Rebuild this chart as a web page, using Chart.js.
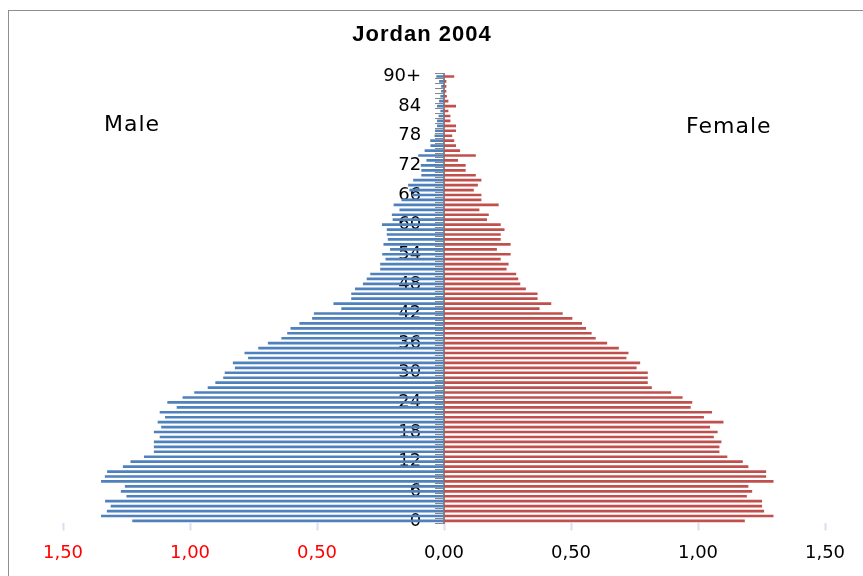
<!DOCTYPE html>
<html>
<head>
<meta charset="utf-8">
<title>Jordan 2004</title>
<script src="https://cdn.jsdelivr.net/npm/chart.js@4.4.1/dist/chart.umd.min.js"></script>
<style>
  html, body { margin: 0; padding: 0; background: #fff; overflow: hidden; }
  #wrap { position: relative; width: 863px; height: 576px; overflow: hidden; }
  #frame { position: absolute; left: 8px; top: 10px; width: 900px; height: 620px; border: 1px solid #8e8e8e; box-sizing: border-box; }
  #chart { position: absolute; left: 0; top: 0; }
</style>
</head>
<body>
<div id="wrap">
  <div id="frame"></div>
  <canvas id="chart" width="863" height="576"></canvas>
</div>
<script>
// age groups, 0 .. 90+
const ages = ['0','1','2','3','4','5','6','7','8','9',
  '10','11','12','13','14','15','16','17','18','19',
  '20','21','22','23','24','25','26','27','28','29',
  '30','31','32','33','34','35','36','37','38','39',
  '40','41','42','43','44','45','46','47','48','49',
  '50','51','52','53','54','55','56','57','58','59',
  '60','61','62','63','64','65','66','67','68','69',
  '70','71','72','73','74','75','76','77','78','79',
  '80','81','82','83','84','85','86','87','88','89',
  '90+'];

// share of population (%)
const male = [
  1.226, 1.349, 1.326, 1.311, 1.333, 1.249, 1.271, 1.255, 1.349, 1.334,
  1.325, 1.263, 1.233, 1.180, 1.141, 1.141, 1.141, 1.118, 1.141, 1.112,
  1.126, 1.097, 1.118, 1.051, 1.088, 1.028, 0.982, 0.929, 0.899, 0.868,
  0.862, 0.822, 0.830, 0.770, 0.784, 0.730, 0.692, 0.639, 0.616, 0.603,
  0.568, 0.518, 0.511, 0.403, 0.434, 0.364, 0.364, 0.349, 0.318, 0.303,
  0.289, 0.250, 0.250, 0.229, 0.242, 0.211, 0.237, 0.220, 0.224, 0.224,
  0.243, 0.201, 0.204, 0.174, 0.197, 0.166, 0.125, 0.135, 0.140, 0.120,
  0.088, 0.088, 0.090, 0.068, 0.100, 0.075, 0.052, 0.053, 0.036, 0.034,
  0.026, 0.026, 0.020, 0.013, 0.026, 0.018, 0.013, 0.010, 0.010, 0.018,
  0.029
];
const female = [
  1.183, 1.296, 1.259, 1.251, 1.251, 1.191, 1.212, 1.197, 1.296, 1.267,
  1.267, 1.197, 1.175, 1.114, 1.083, 1.083, 1.091, 1.061, 1.076, 1.046,
  1.099, 1.022, 1.054, 0.970, 0.976, 0.938, 0.893, 0.817, 0.801, 0.801,
  0.801, 0.757, 0.771, 0.717, 0.725, 0.687, 0.641, 0.596, 0.580, 0.558,
  0.542, 0.504, 0.466, 0.375, 0.421, 0.367, 0.367, 0.321, 0.299, 0.291,
  0.283, 0.245, 0.253, 0.222, 0.261, 0.207, 0.261, 0.222, 0.222, 0.237,
  0.222, 0.168, 0.175, 0.138, 0.214, 0.146, 0.146, 0.116, 0.132, 0.146,
  0.124, 0.084, 0.084, 0.054, 0.124, 0.062, 0.046, 0.039, 0.031, 0.046,
  0.046, 0.024, 0.024, 0.016, 0.046, 0.016, 0.010, 0.008, 0.008, 0.008,
  0.039
];

// x axis ticks (male side shown as positive numbers)
const xTicks = [-1.5, -1.0, -0.5, 0, 0.5, 1.0, 1.5];
const ageLabelStep = 6;

const tickFont = { family: '"DejaVu Sans", sans-serif', size: 18 };

// title and the two side captions
const captions = {
  id: 'captions',
  afterDraw(chart) {
    const c = chart.ctx;
    c.save();
    c.fillStyle = '#000';
    c.textBaseline = 'middle';
    c.font = 'bold 22px "Liberation Sans", Arial, sans-serif';
    c.letterSpacing = '1px';
    c.textAlign = 'center';
    c.fillText('Jordan 2004', 422, 35);
    c.font = '22px "DejaVu Sans", sans-serif';
    c.textAlign = 'left';
    c.fillText('Male', 104, 125);
    c.fillText('Female', 686, 127);
    c.restore();
  }
};

const ctx = document.getElementById('chart').getContext('2d');
new Chart(ctx, {
  type: 'bar',
  data: {
    labels: ages,
    datasets: [
      {
        label: 'Male',
        data: male.map(v => -v),
        backgroundColor: '#4F81BD',
        barThickness: 2
      },
      {
        label: 'Female',
        data: female,
        backgroundColor: '#C0504D',
        barThickness: 2
      }
    ]
  },
  options: {
    indexAxis: 'y',
    responsive: false,
    animation: false,
    layout: { padding: { left: 63, right: 38, top: 74, bottom: 0 } },
    plugins: {
      legend: { display: false },
      tooltip: { enabled: false },
      title: { display: false }
    },
    scales: {
      x: {
        stacked: true,
        min: -1.5,
        max: 1.5,
        afterBuildTicks: axis => { axis.ticks = xTicks.map(v => ({ value: v })); },
        border: { display: false },
        grid: { drawOnChartArea: false, drawTicks: true, tickLength: 7, color: '#d6e0f0', tickWidth: 2 },
        ticks: {
          font: tickFont,
          padding: 12,
          color: c => (c.tick && c.tick.value < 0 ? '#ff0000' : '#000000'),
          callback: v => Math.abs(v).toFixed(2).replace('.', ',')
        }
      },
      // axis line with a tick mark per age, at x = 0
      y: {
        stacked: true,
        reverse: true,
        position: { x: 0 },
        border: { display: true, color: '#868686', width: 2 },
        grid: { drawOnChartArea: false, tickLength: 8, color: '#868686', offset: true },
        ticks: { display: false }
      },
      // age labels, set a little left of the axis line
      yLabels: {
        type: 'category',
        axis: 'y',
        labels: ages,
        offset: true,
        reverse: true,
        position: { x: -0.09 },
        border: { display: false },
        grid: { display: false },
        ticks: {
          autoSkip: false,
          font: tickFont,
          color: '#000',
          padding: 0,
          callback: (v, i) => (i % ageLabelStep === 0 ? ages[i] : '')
        }
      }
    }
  },
  plugins: [captions]
});
</script>
</body>
</html>
